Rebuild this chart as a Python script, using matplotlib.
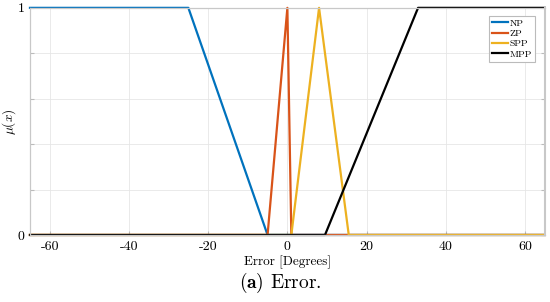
import matplotlib
matplotlib.use("Agg")
import matplotlib.pyplot as plt

plt.rcParams['font.family'] = 'serif'
plt.rcParams['font.serif'] = ['cmr10', 'DejaVu Serif']
plt.rcParams['mathtext.fontset'] = 'cm'
plt.rcParams['axes.unicode_minus'] = False

# membership functions (breakpoints)
np_x = [-65, -25, -5, 65]
np_y = [1, 1, 0, 0]
zp_x = [-65, -5, 0, 1, 65]
zp_y = [0, 0, 1, 0, 0]
spp_x = [-65, 1, 8, 15.5, 65]
spp_y = [0, 0, 1, 0, 0]
mpp_x = [-65, 9.5, 33, 65]
mpp_y = [0, 0, 1, 1]

xticks = [-60, -40, -20, 0, 20, 40, 60]
yticks = [0, 0.2, 0.4, 0.6, 0.8, 1]
ytick_labels = ['0', '', '', '', '', '1']

fig = plt.figure(figsize=(5.5, 3.02), dpi=100)
ax = fig.add_axes([0.0545, 0.222, 0.936, 0.752])

ax.plot(np_x, np_y, color='#0072BD', lw=1.6, label='NP', clip_on=False)
ax.plot(zp_x, zp_y, color='#D95319', lw=1.6, label='ZP', clip_on=False)
ax.plot(spp_x, spp_y, color='#EDB120', lw=1.6, label='SPP', clip_on=False)
ax.plot(mpp_x, mpp_y, color='black', lw=1.6, label='MPP', clip_on=False)

ax.set_xlim(-65, 65)
ax.set_ylim(0, 1)
ax.set_xticks(xticks)
ax.set_xticklabels([str(t) for t in xticks])
ax.set_yticks(yticks)
ax.set_yticklabels(ytick_labels)
ax.grid(True, color='#e6e6e6', lw=0.6)
ax.tick_params(direction='in', length=3, color='#bbbbbb', labelsize=10,
               right=True, top=False, pad=4)
for s in ax.spines.values():
    s.set_color('#c8c8c8')
    s.set_linewidth(0.9)
ax.spines['right'].set_linewidth(1.5)

ax.set_xlabel('Error [Degrees]', fontsize=9.5, labelpad=2)
ax.set_ylabel(r'$\mu(x)$', fontsize=9.5)
ax.yaxis.set_label_coords(-0.024, 0.5)

leg = ax.legend(loc='upper right', fontsize=7, handlelength=1.6,
                handletextpad=0.2, borderpad=0.3, labelspacing=0.15,
                fancybox=False, framealpha=1, bbox_to_anchor=(0.99, 0.985))
leg.get_frame().set_edgecolor('#bbbbbb')
leg.get_frame().set_linewidth(0.8)

fig.text(0.51, 0.062, r'$\mathbf{(a)}$ Error.', ha='center', va='center', fontsize=14)

fig.savefig('out.png', dpi=100)
